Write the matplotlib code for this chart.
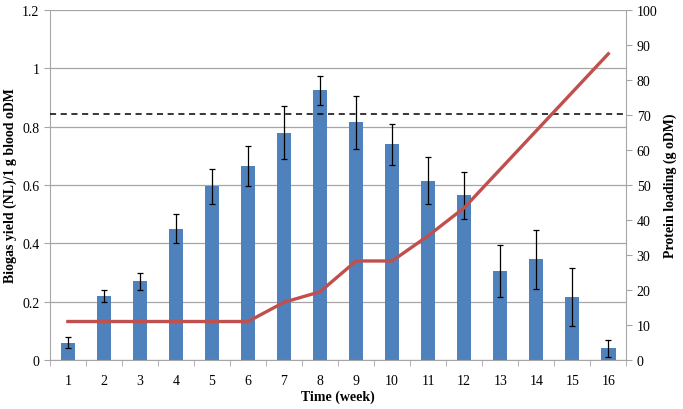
import matplotlib
matplotlib.use("Agg")
import matplotlib.pyplot as plt
import numpy as np

weeks = list(range(1, 17))
biogas = [0.06, 0.22, 0.27, 0.45, 0.595, 0.665, 0.78, 0.925, 0.815, 0.74, 0.615, 0.565, 0.305, 0.345, 0.215, 0.04]
errors = [0.02, 0.02, 0.03, 0.05, 0.06, 0.07, 0.09, 0.05, 0.09, 0.07, 0.08, 0.08, 0.09, 0.10, 0.10, 0.03]
protein = [11, 11, 11, 11, 11, 11, 16.5, 19.5, 28.3, 28.3, 35.5, 43.5, 54.5, 65.5, 76.5, 87.5]
threshold = 0.845

plt.rcParams['font.family'] = ['Liberation Serif', 'DejaVu Serif']

fig = plt.figure(figsize=(6.83, 4.10), dpi=100)
ax = fig.add_axes([0.073, 0.1195, 0.844, 0.8535])
grid_c = '#a6a6a6'
ax.set_ylim(0, 1.2)
ax.set_yticks(np.arange(0, 1.21, 0.2))
ax.set_yticklabels(['0', '0.2', '0.4', '0.6', '0.8', '1', '1.2'])
ax.yaxis.grid(True, color=grid_c, linewidth=0.9)
ax.set_axisbelow(True)
ax.bar(weeks, biogas, width=0.4, color='#4F81BD', zorder=2)
ax.errorbar(weeks, biogas, yerr=errors, fmt='none', ecolor='black', elinewidth=0.9,
            capsize=2.5, capthick=0.9, zorder=3)
ax.set_xlim(0.5, 16.5)
ax.set_xticks(weeks)
ax.set_xticklabels([str(w) for w in weeks], fontsize=10)
ax.set_xticks(np.arange(0.5, 16.6, 1), minor=True)
ax.tick_params(axis='x', which='major', length=0, pad=10)
ax.tick_params(axis='x', which='minor', length=4, color=grid_c, direction='out')
ax.tick_params(axis='y', length=4, color=grid_c, labelsize=10, direction='out')
for s in ['top', 'right']:
    ax.spines[s].set_visible(False)
for s in ['left', 'bottom']:
    ax.spines[s].set_color(grid_c)
ax.set_ylabel('Biogas yield (NL)/1 g blood oDM', fontsize=10, fontweight='bold')
ax.set_xlabel('Time (week)', fontsize=10, fontweight='bold', labelpad=2)
ax.plot([0.5, 16.5], [threshold, threshold], color='black', linestyle=(0, (4, 3)), linewidth=1.1, zorder=4)

ax2 = ax.twinx()
ax2.set_ylim(0, 100)
ax2.set_yticks(np.arange(0, 101, 10))
ax2.plot(weeks, protein, color='#C0504D', linewidth=2.4, zorder=5)
for s in ['top', 'left', 'bottom']:
    ax2.spines[s].set_visible(False)
ax2.spines['right'].set_color(grid_c)
ax2.tick_params(axis='y', length=4, color=grid_c, labelsize=10, direction='out')
ax2.set_ylabel('Protein loading (g oDM)', fontsize=10, fontweight='bold')

fig.savefig('out.png', dpi=100)
